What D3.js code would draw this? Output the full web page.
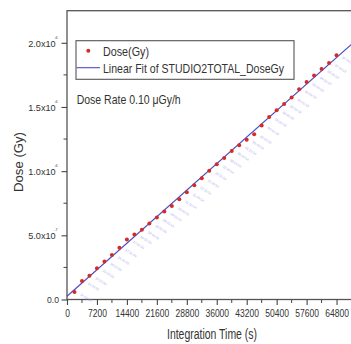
<!DOCTYPE html>
<html>
<head>
<meta charset="utf-8">
<script src="https://cdn.jsdelivr.net/npm/d3@7"></script>
<style>
  body { margin: 0; background: #fff; }
  svg { display: block; }
  text { font-family: "Liberation Sans", Arial, sans-serif; fill: #333; }
</style>
</head>
<body>
<div id="chart"></div>
<script>
// integration time (s) of each reading
const times = [1800, 3600, 5400, 7200, 9000, 10800, 12600, 14400, 16200, 18000,
  19800, 21600, 23400, 25200, 27000, 28800, 30600, 32400, 34200, 36000,
  37800, 39600, 41400, 43200, 45000, 46800, 48600, 50400, 52200, 54000,
  55800, 57600, 59400, 61200, 63000, 64800]
// accumulated dose (Gy)
const doses = [0.058e-6, 0.144e-6, 0.186e-6, 0.243e-6, 0.296e-6, 0.347e-6, 0.404e-6, 0.468e-6, 0.507e-6, 0.543e-6,
  0.593e-6, 0.638e-6, 0.685e-6, 0.729e-6, 0.781e-6, 0.836e-6, 0.890e-6, 0.945e-6, 1.004e-6, 1.054e-6,
  1.103e-6, 1.156e-6, 1.201e-6, 1.244e-6, 1.288e-6, 1.355e-6, 1.421e-6, 1.475e-6, 1.524e-6, 1.573e-6,
  1.639e-6, 1.694e-6, 1.745e-6, 1.795e-6, 1.842e-6, 1.903e-6]
// clock time printed next to each point
const clockLabels = ['14:15:55', '14:45:55', '15:15:55', '15:45:55', '16:15:55', '16:45:55', '17:15:55', '17:45:55', '18:15:55', '18:45:55',
  '19:15:55', '19:45:55', '20:15:55', '20:45:55', '21:15:54', '21:45:54', '22:15:54', '22:45:54', '23:15:54', '23:45:54',
  '00:15:54', '00:45:54', '01:15:54', '01:45:54', '02:15:53', '02:45:53', '03:15:53', '03:45:53', '04:15:53', '04:45:53',
  '05:15:53', '05:45:53', '06:15:53', '06:45:53', '07:15:53', '07:45:53']
const xTicks = [0, 7200, 14400, 21600, 28800, 36000, 43200, 50400, 57600, 64800]
const yTicks = [0, 5e-7, 1e-6, 1.5e-6, 2e-6]
const yTickText = [['0.0', ''], ['5.0x10', '-7'], ['1.0x10', '-6'], ['1.5x10', '-6'], ['2.0x10', '-6']]

const width = 351
const height = 344

const data = times.map((t, i) => ({ t, dose: doses[i], label: clockLabels[i] }))

const x = d3.scaleLinear().domain([0, 72000]).range([67, 366.5])
const y = d3.scaleLinear().domain([0, 2.25e-6]).range([299.5, 10.7])

const svg = d3.select('#chart').append('svg')
  .attr('width', width)
  .attr('height', height)

// frame (right side runs off the picture)
svg.append('rect')
  .attr('x', x(0)).attr('y', y(2.25e-6))
  .attr('width', x(72000) - x(0)).attr('height', y(0) - y(2.25e-6))
  .attr('fill', 'none').attr('stroke', '#555').attr('stroke-width', 1.3)

// minor ticks
const xMinor = d3.range(3600, 72000, 7200)
svg.append('g').selectAll('line').data(xMinor).join('line')
  .attr('x1', d => x(d)).attr('x2', d => x(d))
  .attr('y1', y(0)).attr('y2', y(0) + 3.5)
  .attr('stroke', '#444').attr('stroke-width', 1)
const yMinor = d3.range(2.5e-7, 2.25e-6, 5e-7)
svg.append('g').selectAll('line').data(yMinor).join('line')
  .attr('x1', x(0) - 3.5).attr('x2', x(0))
  .attr('y1', d => y(d)).attr('y2', d => y(d))
  .attr('stroke', '#444').attr('stroke-width', 1)

const xAxis = svg.append('g')
  .attr('transform', `translate(0, ${y(0)})`)
  .call(d3.axisBottom(x).tickValues(xTicks).tickSize(5.5).tickSizeOuter(0).tickPadding(4).tickFormat(d3.format('d')))
xAxis.select('.domain').remove()
xAxis.selectAll('line').attr('stroke', '#444').attr('stroke-width', 1.1)
xAxis.selectAll('text')
  .attr('font-size', 11.5).attr('fill', '#444')
  .attr('transform', 'scale(0.74, 1)')

const yAxis = svg.append('g')
  .attr('transform', `translate(${x(0)}, 0)`)
  .call(d3.axisLeft(y).tickValues(yTicks).tickSize(5.5).tickSizeOuter(0).tickFormat(''))
yAxis.select('.domain').remove()
yAxis.selectAll('line').attr('stroke', '#444').attr('stroke-width', 1.1)
yAxis.selectAll('.tick').each(function (d, i) {
  const g = d3.select(this)
  g.append('text')
    .attr('x', yTickText[i][1] ? -11.3 : -8).attr('dy', '0.35em')
    .attr('text-anchor', 'end').attr('font-size', 9.5).attr('fill', '#444')
    .attr('textLength', yTickText[i][1] ? 27.5 : 12).attr('lengthAdjust', 'spacingAndGlyphs')
    .text(yTickText[i][0])
  if (yTickText[i][1]) {
    g.append('text')
      .attr('x', -9.4).attr('y', -4.6)
      .attr('font-size', 3.6).attr('fill', '#444')
      .text(yTickText[i][1])
  }
})

// least-squares linear fit through the points
const mx = d3.mean(data, d => d.t)
const my = d3.mean(data, d => d.dose)
const slope = d3.sum(data, d => (d.t - mx) * (d.dose - my)) / d3.sum(data, d => (d.t - mx) ** 2)
const intercept = my - slope * mx
const fitLine = d3.line()
  .x(d => x(d))
  .y(d => y(intercept + slope * d))
svg.append('path')
  .datum([0, 72000])
  .attr('d', fitLine)
  .attr('fill', 'none')
  .attr('stroke', '#4b4bc4')
  .attr('stroke-width', 1.1)

// clock time labels
svg.append('g').selectAll('text').data(data).join('text')
  .attr('transform', d => `translate(${x(d.t) + 5.5}, ${y(d.dose) + 3}) rotate(32)`)
  .attr('font-size', 3.3)
  .style('fill', '#a8a8ee')
  .text(d => d.label)

svg.append('g').selectAll('circle').data(data).join('circle')
  .attr('cx', d => x(d.t))
  .attr('cy', d => y(d.dose))
  .attr('r', 2)
  .attr('fill', '#d42a2a')

// legend
svg.append('rect')
  .attr('x', 76).attr('y', 40.7).attr('width', 218).attr('height', 38.6)
  .attr('fill', '#fff').attr('stroke', '#555').attr('stroke-width', 1.1)
svg.append('circle').attr('cx', 88.3).attr('cy', 50.7).attr('r', 2).attr('fill', '#d42a2a')
svg.append('text').attr('x', 103).attr('y', 56).attr('font-size', 13.5)
  .attr('textLength', 46).attr('lengthAdjust', 'spacingAndGlyphs')
  .text('Dose(Gy)')
svg.append('line').attr('x1', 76.5).attr('x2', 100).attr('y1', 67.7).attr('y2', 67.7)
  .attr('stroke', '#4b4bc4').attr('stroke-width', 1.1)
svg.append('text').attr('x', 103).attr('y', 72.5).attr('font-size', 13.5)
  .attr('textLength', 181).attr('lengthAdjust', 'spacingAndGlyphs')
  .text('Linear Fit of STUDIO2TOTAL_DoseGy')

svg.append('text').attr('x', 76.7).attr('y', 104).attr('font-size', 13.5)
  .attr('textLength', 104).attr('lengthAdjust', 'spacingAndGlyphs')
  .text('Dose Rate 0.10 μGy/h')

// axis titles
svg.append('text')
  .attr('transform', `translate(23, 162) rotate(-90)`)
  .attr('text-anchor', 'middle').attr('font-size', 13.5)
  .attr('textLength', 60).attr('lengthAdjust', 'spacingAndGlyphs')
  .text('Dose (Gy)')
svg.append('text')
  .attr('x', 212).attr('y', 339)
  .attr('text-anchor', 'middle').attr('font-size', 14)
  .attr('textLength', 90).attr('lengthAdjust', 'spacingAndGlyphs')
  .text('Integration Time (s)')
</script>
</body>
</html>
